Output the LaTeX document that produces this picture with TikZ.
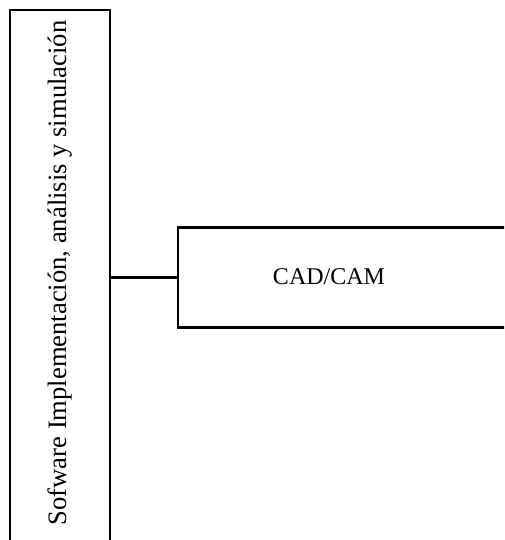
\documentclass[tikz,border=0pt]{standalone}
\usepackage{fontspec}
\setmainfont{Liberation Serif}
\usetikzlibrary{positioning}

\begin{document}
\begin{tikzpicture}[x=1pt, y=1pt, font=\fontsize{24}{28}\selectfont,
  box/.style={draw, line width=2.4pt, inner sep=0pt},
  link/.style={line width=2.4pt}]
  \useasboundingbox (0,0) rectangle (504,-540);
  \clip (0,0) rectangle (504,-540);
  % left column
  \node[box, minimum width=100pt, minimum height=570pt] (soft) at (60,-295) {};
  \node[rotate=90, font=\fontsize{26.6}{30}\selectfont] (softlbl) at (60,-273)
    {Sofware Implementación, análisis y simulación};

  % right box
  \node[box, minimum width=352pt, minimum height=100pt] (cad) at (354,-277.5) {};
  \node (cadlbl) at (329,-277) {CAD/CAM};
  \draw[link] (cad.west) -- (cad.west -| soft.east);
\end{tikzpicture}
\end{document}
